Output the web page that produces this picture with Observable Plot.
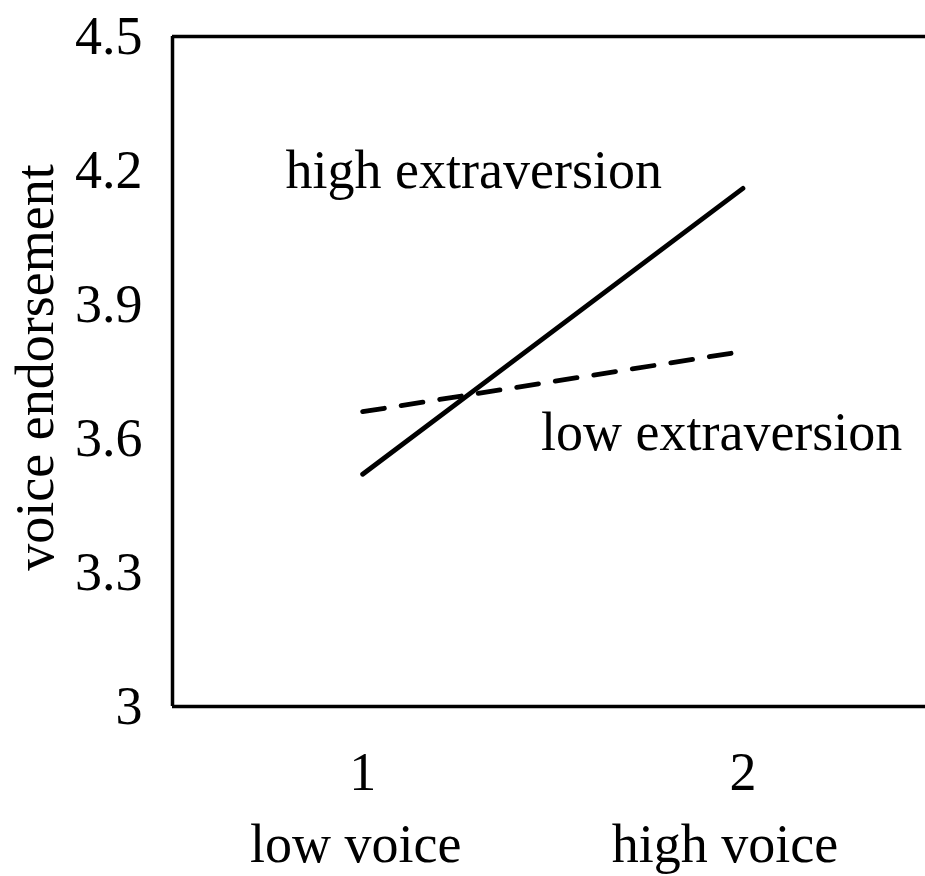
<!DOCTYPE html>
<html><head><meta charset="utf-8">
<script src="https://cdn.jsdelivr.net/npm/d3@7"></script>
<script src="https://cdn.jsdelivr.net/npm/@observablehq/plot@0.6"></script>
<style>body{margin:0;background:#fff}</style>
</head><body><div id="chart"></div>
<script>
const voiceLevels = [1, 2];
const voiceNames = ["low voice", "high voice"];
const highExtraversion = [3.52, 4.16];
const lowExtraversion = [3.66, 3.795];
const seriesNames = ["high extraversion", "low extraversion"];
const yTicks = [3, 3.3, 3.6, 3.9, 4.2, 4.5];
const yDomain = [3, 4.5];
const xDomain = [0.5, 2.48];
const yTitle = "voice endorsement";

const highRows = voiceLevels.map((x, i) => ({x, y: highExtraversion[i]}));
const lowRows = voiceLevels.map((x, i) => ({x, y: lowExtraversion[i]}));
const FS = 54;

const chart = Plot.plot({
  width: 925, height: 876,
  marginLeft: 172, marginRight: 0, marginTop: 36, marginBottom: 170,
  style: {fontFamily: "Liberation Serif, Times New Roman, serif", color: "black", background: "white"},
  x: {domain: xDomain},
  y: {domain: yDomain},
  marks: [
    Plot.ruleX([xDomain[0]], {stroke: "black", strokeWidth: 3.5}),
    Plot.ruleY(yDomain, {stroke: "black", strokeWidth: 3.5}),
    Plot.line(highRows, {x: "x", y: "y", stroke: "black", strokeWidth: 4.8}),
    Plot.line(lowRows, {x: "x", y: "y", stroke: "black", strokeWidth: 4.8, strokeDasharray: "22,17"}),
    Plot.text([highRows[1]], {x: "x", y: "y", text: () => seriesNames[0], textAnchor: "end", lineAnchor: "bottom", dx: -81, dy: 0, fontSize: FS, fill: "black"}),
    Plot.text([lowRows[1]], {x: "x", y: "y", text: () => seriesNames[1], textAnchor: "start", lineAnchor: "bottom", dx: -202, dy: 99, fontSize: FS, fill: "black"}),
    Plot.axisY({ticks: yTicks, tickSize: 0, tickPadding: 30, fontSize: FS, tickFormat: d => String(d), label: null}),
    Plot.axisX({ticks: voiceLevels, tickSize: 0, tickPadding: 45, fontSize: FS, tickFormat: d => String(d), label: null}),
    Plot.axisX({ticks: [voiceLevels[0]], tickSize: 0, tickPadding: 117, fontSize: FS, tickFormat: () => voiceNames[0], dx: -7, label: null}),
    Plot.axisX({ticks: [voiceLevels[1]], tickSize: 0, tickPadding: 117, fontSize: FS, tickFormat: () => voiceNames[1], dx: -18, label: null}),
    Plot.text([yTitle], {text: d => d, frameAnchor: "left", textAnchor: "middle", rotate: -90, lineAnchor: "bottom", dx: -120, dy: -4, fontSize: FS, fill: "black"})
  ]
});
document.getElementById("chart").appendChild(chart);
</script>
</body></html>
